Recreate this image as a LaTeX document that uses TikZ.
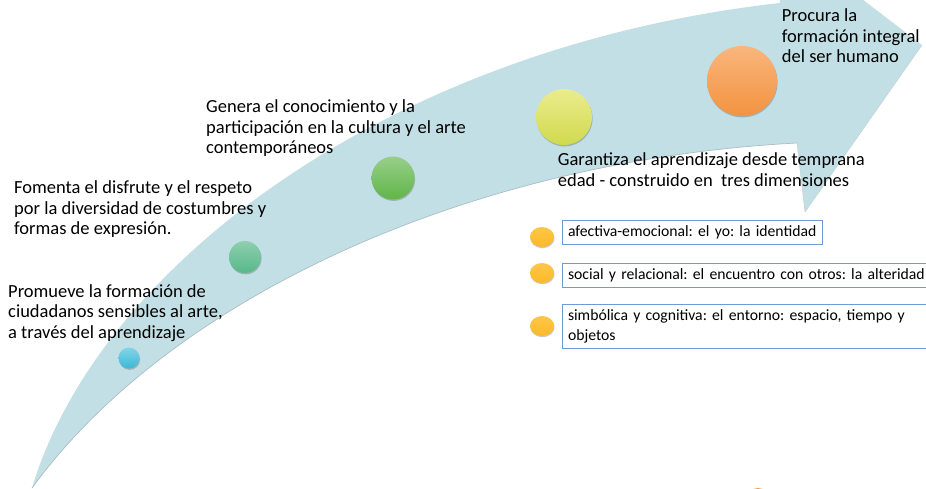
\documentclass[tikz,border=0pt]{standalone}
\usepackage{fontspec}
\setmainfont{Carlito}
\usetikzlibrary{shapes.geometric,shadows}
\definecolor{bandc}{RGB}{194,223,229}
\definecolor{bandedge}{RGB}{170,190,195}
\definecolor{boxblue}{RGB}{110,155,215}
\definecolor{dotyel}{RGB}{253,188,42}
\hyphenpenalty=10000
\begin{document}
\frenchspacing
\begin{tikzpicture}[x=1pt,y=-1pt,
  maintext/.style={anchor=north west,inner sep=0pt,align=left,text=black,font=\fontsize{18.5}{20.5}\selectfont\frenchspacing},
  boxtext/.style={draw=boxblue,line width=1pt,fill=white,inner xsep=5.5pt,inner ysep=0pt,align=left,font=\fontsize{15.7}{20}\selectfont\frenchspacing},
  dot/.style={circle,inner sep=0pt,drop shadow={shadow xshift=0.6pt,shadow yshift=-1.4pt,opacity=0.3,fill=black!70}},
  smalldot/.style={ellipse,inner sep=0pt,minimum width=24pt,minimum height=20pt,top color=dotyel!85!white,bottom color=dotyel!95!orange,draw=none,drop shadow={shadow xshift=0.5pt,shadow yshift=-1.2pt,opacity=0.3,fill=black!70}},
]
\useasboundingbox (0,0) rectangle (926,489);
\clip (0,0) rectangle (926,489);
\fill[white] (0,0) rectangle (926,489);
% arrow band
\fill[bandc] (32,488) .. controls (100,262) and (395,46) .. (780,3)
  -- (777,-66) -- (922,45) -- (805,212) -- (797,143)
  .. controls (472,160) and (172,296) .. (32,488) -- cycle;
\draw[bandedge,line width=0.7pt] (797,143) .. controls (472,160) and (172,296) .. (32,488);
\draw[bandedge!70!white,line width=0.5pt] (922,45) -- (805,212) -- (797,143);
% circles on the band
\node[dot,minimum size=21pt,top color={rgb,255:red,130;green,212;blue,232},bottom color={rgb,255:red,60;green,184;blue,214}] (c1) at (129,358) {};
\node[dot,minimum size=32pt,top color={rgb,255:red,142;green,207;blue,175},bottom color={rgb,255:red,88;green,184;blue,138}] (c2) at (245,257) {};
\node[dot,minimum size=43pt,top color={rgb,255:red,152;green,207;blue,138},bottom color={rgb,255:red,96;green,181;blue,72}] (c3) at (393,178) {};
\node[dot,minimum size=56pt,top color={rgb,255:red,234;green,236;blue,142},bottom color={rgb,255:red,208;green,218;blue,76}] (c4) at (564,117) {};
\node[dot,minimum size=70pt,top color={rgb,255:red,249;green,182;blue,124},bottom color={rgb,255:red,243;green,147;blue,64}] (c5) at (742,81) {};
\node[dot,minimum size=26pt,fill={rgb,255:red,245;green,158;blue,70}] (c6) at (758,501) {};
% texts
\node[maintext] (t1) at (8,282.7) {\strut Promueve la formación de\\ciudadanos sensibles al arte,\\a través del aprendizaje};
\node[maintext] (t2) at (14,179.2) {\strut Fomenta el disfrute y el respeto\\por la diversidad de costumbres y\\formas de expresión.};
\node[maintext] (t3) at (206,98.3) {\strut Genera el conocimiento y la\\participación en la cultura y el arte\\contemporáneos};
\node[maintext] (t4) at (557.7,151.3) {\strut Garantiza el aprendizaje desde temprana\\edad - construido en\ \ tres dimensiones};
\node[maintext] (t5) at (781.7,7.3) {\strut Procura la\\formación integral\\del ser humano};
% dimension boxes
\node[smalldot] (d1) at (542,237) {};
\node[smalldot] (d2) at (542,273) {};
\node[smalldot] (d3) at (542,326) {};
\node[boxtext,anchor=west,minimum height=23pt,text width=249pt] (b1) at (562,232.5) {\strut afectiva-emocional: el yo: la identidad};
\node[boxtext,anchor=west,minimum height=24pt,text width=369pt] (b2) at (562,275) {\strut social y relacional: el encuentro con otros: la alteridad};
\node[boxtext,anchor=west,minimum height=44pt,text width=369pt] (b3) at (562,326) {\strut simbólica y cognitiva: el entorno: espacio, tiempo y\\objetos\strut};
\end{tikzpicture}
\end{document}
